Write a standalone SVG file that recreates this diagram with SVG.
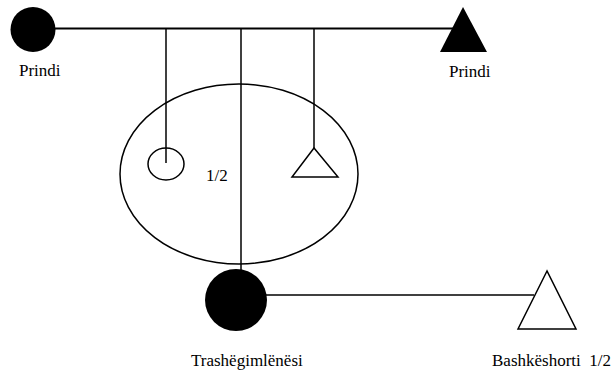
<svg xmlns="http://www.w3.org/2000/svg" width="616" height="371" viewBox="0 0 616 371">
  <style>
    .line { stroke: #000; fill: none; stroke-width: 1.5; }
    .heavy { stroke-width: 2; }
    .solid { fill: #000; stroke: none; }
    .open { fill: #fff; stroke: #000; stroke-width: 1.5; }
    text { font-family: 'Liberation Serif', 'Times New Roman', Times, 'DejaVu Serif', serif; font-size: 17px; fill: #000; }
  </style>
  <rect width="616" height="371" fill="#fff"/>

  <!-- family group boundary -->
  <g id="household">
    <ellipse class="line" cx="239" cy="174" rx="119" ry="90"/>
    <text x="206" y="181" font-family="Liberation Serif, serif">1/2</text>
  </g>

  <!-- connectors -->
  <g id="connectors">
    <line class="line heavy" x1="33" y1="28.5" x2="455" y2="28.5"/>
    <line class="line" x1="166" y1="28.5" x2="166" y2="163"/>
    <line class="line" x1="241" y1="28.5" x2="241" y2="271"/>
    <line class="line" x1="314" y1="28.5" x2="314" y2="148"/>
    <line class="line" x1="236" y1="295" x2="534" y2="295"/>
  </g>

  <g id="parent-left">
    <circle class="solid" cx="33" cy="29.5" r="22.5"/>
    <text x="19" y="76" font-family="Liberation Serif, serif">Prindi</text>
  </g>

  <g id="parent-right">
    <polygon class="solid" points="463,7 440,52 487,52"/>
    <text x="449" y="77" font-family="Liberation Serif, serif">Prindi</text>
  </g>

  <g id="sibling-female">
    <ellipse class="line" cx="166" cy="164" rx="18" ry="16"/>
  </g>

  <g id="sibling-male">
    <polygon class="open" points="314,148 292,177 338,177"/>
  </g>

  <g id="deceased">
    <circle class="solid" cx="236" cy="300" r="31"/>
    <text x="191" y="366" font-family="Liberation Serif, serif">Trashëgimlënësi</text>
  </g>

  <g id="spouse">
    <polygon class="open" points="547,271 518,329 576,329"/>
    <text x="492" y="366" font-family="Liberation Serif, serif" xml:space="preserve">Bashkëshorti  1/2</text>
  </g>
</svg>
